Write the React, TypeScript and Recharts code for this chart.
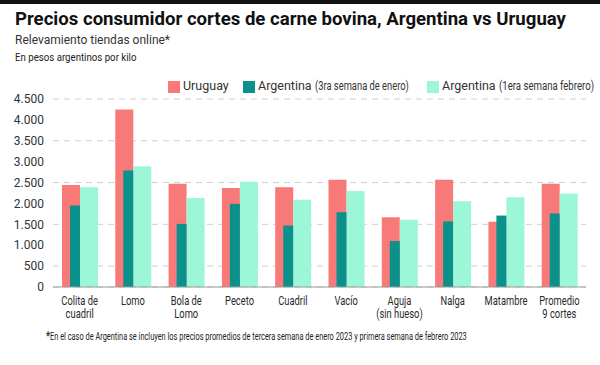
import { BarChart, Bar, CartesianGrid, XAxis, YAxis } from "recharts";

const CUTS = [
  "Colita de\ncuadril",
  "Lomo",
  "Bola de\nLomo",
  "Peceto",
  "Cuadril",
  "Vacío",
  "Aguja\n(sin hueso)",
  "Nalga",
  "Matambre",
  "Promedio\n9 cortes"
];
const URUGUAY = [2440, 4250, 2470, 2370, 2390, 2570, 1670, 2570, 1560, 2470];
const ARG_ENERO = [1950, 2790, 1510, 1990, 1470, 1790, 1100, 1570, 1710, 1760];
const ARG_FEBRERO = [2390, 2890, 2130, 2520, 2090, 2300, 1610, 2050, 2150, 2240];
const Y_TICKS = [0, 500, 1000, 1500, 2000, 2500, 3000, 3500, 4000, 4500];

const data = CUTS.map((cut, i) => ({
  cut,
  uruguay: URUGUAY[i],
  enero: ARG_ENERO[i],
  febrero: ARG_FEBRERO[i]
}));

const C_URU = "#f87a78";
const C_ENE = "#0b918c";
const C_FEB = "#9bf7d7";
const SANS = "'Roboto', 'Liberation Sans', sans-serif";

const fmt = (v: number) => v.toString().replace(/\B(?=(\d{3})+(?!\d))/g, ".");

// no condensed font installed, so squeeze Roboto horizontally
const Narrow = ({ children, size, sx = 0.78, style }: any) => (
  <span style={{ display: "inline-block", fontFamily: SANS, fontSize: size, transform: `scaleX(${sx})`, transformOrigin: "left center", whiteSpace: "nowrap", ...style }}>
    {children}
  </span>
);

function CutTick({ x, y, payload }: any) {
  const lines = String(payload.value).split("\n");
  return (
    <g transform={`translate(${x},${y})`}>
      <text transform="scale(0.78,1)" x={0} y={0} textAnchor="middle" fontFamily={SANS} fontSize={12} fill="#2a2a2a">
        {lines.map((l, i) => (
          <tspan key={i} x={0} dy={i === 0 ? 10 : 13}>{l}</tspan>
        ))}
      </text>
    </g>
  );
}

// enero bar sits over the right half of the Uruguay bar
const EneroShape = (p: any) => (
  <rect x={p.x - p.width / 2} y={p.y} width={p.width} height={p.height} fill={C_ENE} />
);

const Swatch = ({ color, left }: { color: string; left: number }) => (
  <div style={{ position: "absolute", left, top: 81, width: 12, height: 12, background: color }} />
);

const legendText = { position: "absolute" as const, top: 78, fontFamily: SANS, fontSize: 12.5, color: "#333", whiteSpace: "nowrap" as const };

export default function App() {
  return (
    <div style={{ position: "fixed", left: 0, top: 0, width: 600, height: 365, background: "#fff", overflow: "hidden" }}>
      <div style={{ position: "absolute", left: 0, top: 0, width: 600, height: 4, background: "#111" }} />
      <div style={{ position: "absolute", left: 15, top: 8, fontFamily: SANS, fontWeight: 700, fontSize: 18.6, color: "#111", whiteSpace: "nowrap" }}>
        Precios consumidor cortes de carne bovina, Argentina vs Uruguay
      </div>
      <div style={{ position: "absolute", left: 15, top: 33, fontFamily: SANS, fontSize: 12, color: "#333", whiteSpace: "nowrap" }}>
        Relevamiento tiendas online*
      </div>
      <div style={{ position: "absolute", left: 15, top: 47, color: "#222" }}>
        <Narrow size={11.5} sx={0.84}>En pesos argentinos por kilo</Narrow>
      </div>

      <Swatch color={C_URU} left={168} />
      <div style={{ ...legendText, left: 183 }}>Uruguay</div>
      <Swatch color={C_ENE} left={243} />
      <div style={{ ...legendText, left: 258 }}>
        Argentina <Narrow size={12} sx={0.78}>(3ra semana de enero)</Narrow>
      </div>
      <Swatch color={C_FEB} left={427} />
      <div style={{ ...legendText, left: 442 }}>
        Argentina <Narrow size={12} sx={0.8}>(1era semana febrero)</Narrow>
      </div>

      <div style={{ position: "absolute", left: 0, top: 0 }}>
        <BarChart
          width={600}
          height={330}
          data={data}
          margin={{ top: 99, right: 14, left: 8, bottom: 3 }}
          barGap={0}
          barCategoryGap={0}
        >
          <CartesianGrid stroke="#cfcfcf" strokeDasharray="6 5" vertical={false} />
          <XAxis
            dataKey="cut"
            xAxisId="main"
            height={40}
            interval={0}
            tickLine={false}
            axisLine={{ stroke: "#9a9a9a" }}
            tick={<CutTick />}
          />
          <XAxis dataKey="cut" xAxisId="over" hide />
          <YAxis
            width={45}
            domain={[0, 4500]}
            ticks={Y_TICKS}
            tickFormatter={fmt}
            tickLine={false}
            axisLine={false}
            tickSize={0}
            tickMargin={9}
            tick={{ fontSize: 12, fontFamily: SANS, fill: "#333" }}
          />
          <Bar xAxisId="main" dataKey="uruguay" fill={C_URU} barSize={18} isAnimationActive={false} />
          <Bar xAxisId="main" dataKey="febrero" fill={C_FEB} barSize={18} isAnimationActive={false} />
          <Bar xAxisId="over" dataKey="enero" fill={C_ENE} barSize={10} shape={EneroShape} isAnimationActive={false} />
        </BarChart>
      </div>

      <div style={{ position: "absolute", left: 46, top: 326, color: "#222", whiteSpace: "nowrap" }}>
        <Narrow size={10} sx={0.74}>
          <b style={{ fontSize: 12 }}>*</b>En el caso de Argentina se incluyen los precios promedios de tercera semana de enero 2023 y primera semana de febrero 2023
        </Narrow>
      </div>
    </div>
  );
}
